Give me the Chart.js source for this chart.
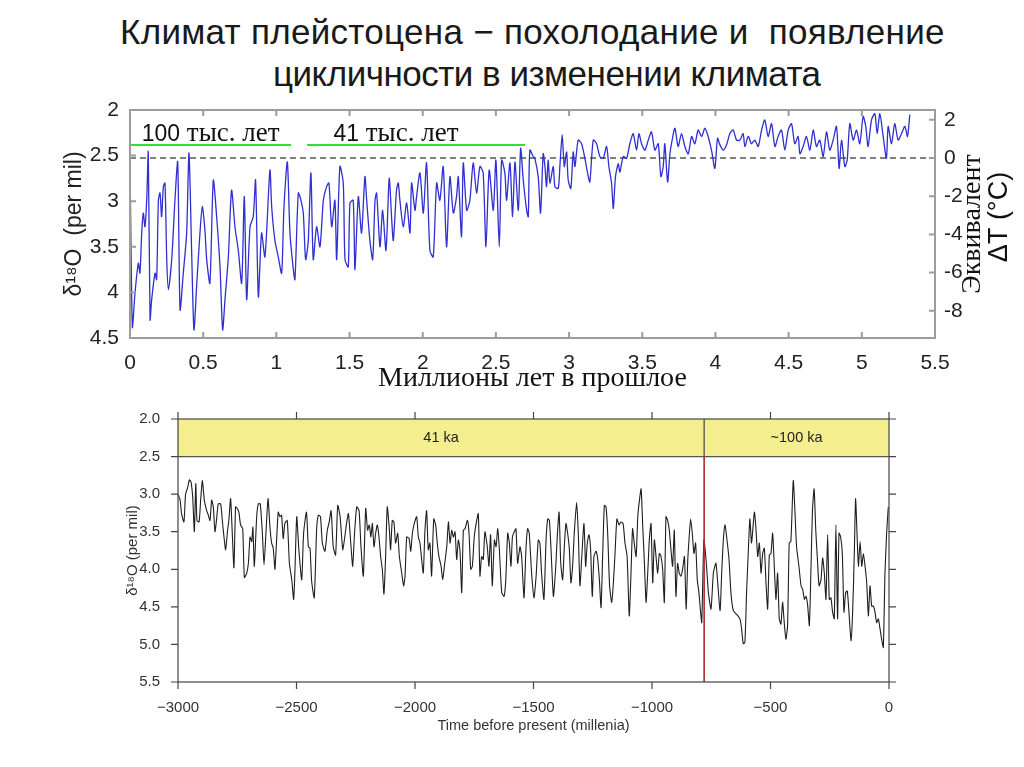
<!DOCTYPE html>
<html>
<head>
<meta charset="utf-8">
<script src="https://cdn.jsdelivr.net/npm/chart.js@4.4.1/dist/chart.umd.min.js"></script>
<style>
  html, body { margin: 0; padding: 0; background: #fff; }
  body { width: 1024px; height: 767px; position: relative; overflow: hidden; font-family: "Liberation Sans", Arial, sans-serif; }
  .title { position: absolute; font-size: 35px; line-height: 42px; color: #1a1a1a; white-space: pre; }
  #topWrap { position: absolute; left: 0; top: 90px; width: 1024px; height: 310px; }
  #bottomWrap { position: absolute; left: 0; top: 400px; width: 1024px; height: 345px; }
</style>
</head>
<body>
<div class="title" style="left:120px; top:11px; letter-spacing:0.3px;">Климат плейстоцена − похолодание и  появление</div>
<div class="title" style="left:273px; top:53px; letter-spacing:-0.5px;">цикличности в изменении климата</div>
<div id="topWrap"><canvas id="topChart"></canvas></div>
<div id="bottomWrap"><canvas id="bottomChart"></canvas></div>
<script>
// Верхний график: δ18O за последние 5.3 млн лет
const topAge = [
  0.000, 0.016, 0.034, 0.057, 0.068, 0.080, 0.091, 0.102, 0.114, 0.125, 0.137, 0.148, 0.171, 0.182, 0.194, 0.205,
  0.216, 0.228, 0.239, 0.251, 0.262, 0.285, 0.307, 0.326, 0.342, 0.364, 0.387, 0.403, 0.421, 0.437, 0.455, 0.478,
  0.494, 0.512, 0.524, 0.546, 0.569, 0.592, 0.615, 0.633, 0.649, 0.672, 0.694, 0.717, 0.740, 0.763, 0.781, 0.797,
  0.820, 0.842, 0.858, 0.877, 0.899, 0.922, 0.956, 0.968, 0.990, 1.013, 1.036, 1.052, 1.075, 1.093, 1.116, 1.127,
  1.150, 1.168, 1.184, 1.200, 1.218, 1.236, 1.252, 1.275, 1.298, 1.321, 1.343, 1.359, 1.378, 1.400,
  1.412, 1.434, 1.457, 1.469, 1.491, 1.503, 1.525, 1.537, 1.560, 1.582, 1.605, 1.617, 1.639, 1.658, 1.674, 1.685,
  1.708, 1.726, 1.749, 1.771, 1.787, 1.799, 1.821, 1.833, 1.844, 1.867, 1.890, 1.913, 1.924, 1.947, 1.958, 1.981,
  2.004, 2.026, 2.049, 2.072, 2.095, 2.117, 2.140, 2.163, 2.186, 2.209, 2.231, 2.243, 2.265, 2.277, 2.300, 2.322,
  2.345, 2.368, 2.391, 2.413, 2.432, 2.454, 2.482, 2.500, 2.523, 2.539, 2.561, 2.573, 2.596, 2.614, 2.630, 2.653,
  2.669, 2.687, 2.710, 2.721, 2.732, 2.755,
  2.766, 2.789, 2.805, 2.823, 2.835, 2.846, 2.857, 2.869, 2.892, 2.903, 2.926, 2.937, 2.953, 2.967, 2.983, 2.994,
  3.012, 3.028, 3.040, 3.062, 3.085, 3.108, 3.131, 3.142, 3.165, 3.188, 3.210, 3.233, 3.256, 3.272, 3.290, 3.302,
  3.317, 3.336, 3.347, 3.370, 3.393, 3.415, 3.438, 3.461, 3.477, 3.495, 3.518, 3.541, 3.563, 3.586, 3.609, 3.627,
  3.643, 3.654, 3.673, 3.689, 3.704, 3.723, 3.745, 3.768, 3.791, 3.814, 3.837, 3.859, 3.882, 3.905, 3.928, 3.950,
  3.973, 3.996, 4.014, 4.030, 4.053, 4.076, 4.098, 4.121, 4.144,
  4.167, 4.189, 4.201, 4.224, 4.246, 4.269, 4.292, 4.315, 4.337, 4.360, 4.383, 4.406, 4.428, 4.451, 4.474, 4.497,
  4.520, 4.542, 4.565, 4.577, 4.599, 4.622, 4.645, 4.668, 4.690, 4.713, 4.736, 4.759, 4.781, 4.804, 4.827, 4.845,
  4.861, 4.884, 4.900, 4.918, 4.941, 4.964, 4.986, 5.009, 5.027, 5.043, 5.066, 5.089, 5.105, 5.123, 5.146, 5.168,
  5.180, 5.203, 5.225, 5.248, 5.271, 5.294, 5.312, 5.328
];
const topD18O = [
  2.55, 4.38, 4.01, 3.68, 3.79, 3.35, 3.13, 3.28, 2.99, 2.46, 4.30, 4.08, 3.79, 3.86, 2.99, 2.91,
  3.17, 2.84, 2.80, 3.64, 3.97, 3.64, 2.99, 2.57, 4.19, 3.79, 3.35, 2.47, 3.54, 4.41, 3.94, 3.35,
  3.06, 3.32, 3.64, 3.90, 2.77, 3.17, 3.72, 4.41, 4.08, 3.61, 2.88, 3.28, 3.54, 3.90, 2.95, 4.08,
  3.28, 3.17, 2.77, 4.05, 3.35, 3.61, 2.66, 3.06, 3.43, 3.61, 3.79, 3.06, 2.57, 3.35, 3.75, 3.86,
  2.91, 2.99, 3.13, 3.64, 3.43, 2.69, 3.64, 3.28, 3.50, 2.99, 2.84, 2.80, 3.28, 2.99,
  3.64, 2.62, 2.80, 3.64, 3.72, 3.02, 2.99, 3.75, 2.95, 3.35, 2.73, 2.99, 3.43, 3.64, 2.99, 2.91,
  3.50, 3.10, 3.54, 2.75, 3.17, 3.43, 2.88, 2.80, 2.99, 3.28, 3.02, 3.35, 2.80, 3.10, 2.95, 2.69,
  3.13, 2.58, 3.54, 3.61, 2.80, 2.99, 2.62, 3.50, 2.73, 3.13, 2.95, 2.73, 3.39, 2.58, 3.10, 2.99,
  2.58, 2.91, 2.62, 2.69, 3.50, 2.66, 3.10, 2.55, 3.50, 2.55, 2.69, 2.99, 2.58, 3.17, 2.57, 3.10,
  2.42, 2.77, 3.10, 3.17, 2.44, 2.51,
  2.53, 2.73, 3.13, 2.48, 2.62, 2.84, 2.55, 2.80, 2.62, 2.84, 2.86, 2.62, 2.27, 2.62, 2.46, 2.77,
  2.86, 2.46, 2.62, 2.33, 2.37, 2.53, 2.73, 2.79, 2.33, 2.37, 2.51, 2.53, 2.40, 2.62, 2.80, 3.08,
  2.73, 2.59, 2.68, 2.51, 2.53, 2.37, 2.26, 2.44, 2.26, 2.37, 2.44, 2.33, 2.24, 2.44, 2.37, 2.73,
  2.62, 2.37, 2.79, 2.48, 2.33, 2.20, 2.40, 2.26, 2.40, 2.48, 2.29, 2.37, 2.22, 2.29, 2.20, 2.29,
  2.44, 2.64, 2.31, 2.38, 2.44, 2.38, 2.26, 2.22, 2.33,
  2.33, 2.26, 2.40, 2.29, 2.37, 2.33, 2.40, 2.22, 2.11, 2.29, 2.15, 2.40, 2.29, 2.22, 2.44, 2.22,
  2.15, 2.37, 2.29, 2.48, 2.40, 2.29, 2.44, 2.22, 2.40, 2.33, 2.51, 2.24, 2.44, 2.33, 2.18, 2.64,
  2.33, 2.62, 2.55, 2.15, 2.33, 2.22, 2.37, 2.07, 2.18, 2.40, 2.11, 2.04, 2.26, 2.04, 2.29, 2.53,
  2.18, 2.37, 2.15, 2.33, 2.26, 2.18, 2.29, 2.05
];
const topXTicks = [0, 0.5, 1, 1.5, 2, 2.5, 3, 3.5, 4, 4.5, 5, 5.5];
const topYTicks = [2, 2.5, 3, 3.5, 4, 4.5];
const topTempTicks = [2, 0, -2, -4, -6, -8];
const cyclePeriods = ['100 тыс. лет', '41 тыс. лет'];
const cycleSpans = [[0, 1.10], [1.21, 2.70]];
const cycleLabelAt = [0.08, 1.39];
const cycleLevel = 2.385;
// пересчёт δ18O -> эквивалент ΔT: 0 °C при 2.526, 0.2095 per mil на градус
const tempZero = 2.526;
const tempSlope = 0.2095;

// Нижний график: последние 3 млн лет
const bottomTime = [
  -3000, -2991, -2985, -2975, -2968, -2959, -2952, -2945, -2938, -2931, -2925, -2920, -2911, -2904, -2897, -2889,
  -2879, -2872, -2865, -2858, -2851, -2844, -2837, -2830, -2820, -2813, -2806, -2799, -2792, -2785, -2778, -2771,
  -2764, -2757, -2750, -2743, -2736, -2727, -2720, -2710, -2703, -2696, -2689, -2684, -2678, -2668, -2661, -2653,
  -2644, -2637, -2629, -2620, -2612, -2605, -2598, -2591, -2584, -2577, -2570, -2563, -2556, -2549, -2539, -2530,
  -2520, -2512, -2506, -2499, -2490, -2478, -2470, -2458, -2450, -2443, -2436, -2425, -2415, -2408, -2399, -2391,
  -2380, -2370, -2362, -2354, -2345, -2335, -2326, -2316, -2305, -2298, -2288, -2281, -2271, -2263, -2256, -2246,
  -2236, -2228, -2218, -2208, -2200, -2193, -2186, -2180, -2173, -2166, -2159, -2152, -2145, -2138, -2131, -2124,
  -2117, -2108, -2103, -2096, -2089, -2082, -2073, -2066, -2056, -2048, -2042, -2035, -2025, -2018, -2011, -2003,
  -1993, -1986, -1979, -1972, -1965, -1958, -1951, -1944, -1937, -1930, -1921, -1913, -1906, -1899, -1890, -1883,
  -1876, -1866, -1859, -1852, -1845, -1838, -1831, -1824, -1817, -1810, -1803, -1796, -1789, -1779, -1772, -1765,
  -1758, -1750, -1743, -1733, -1726, -1719, -1712, -1705, -1695, -1688, -1681, -1674, -1665, -1658, -1651, -1644,
  -1634, -1624, -1617, -1609, -1602, -1595, -1589, -1581, -1574, -1567, -1557, -1550, -1540, -1532, -1525, -1518,
  -1508, -1498, -1489, -1480, -1473, -1466, -1456, -1447, -1440, -1433, -1426, -1416, -1406, -1399, -1392, -1385,
  -1377, -1370, -1363, -1356, -1349, -1342, -1335, -1328, -1318, -1311, -1304, -1297, -1287, -1280, -1273, -1266,
  -1259, -1252, -1245, -1236, -1229, -1222, -1215, -1208, -1201, -1194, -1187, -1179, -1170, -1163, -1156, -1148,
  -1139, -1131, -1122, -1114, -1105, -1096, -1089, -1082, -1075, -1067, -1060, -1053, -1046, -1039, -1032, -1025,
  -1018, -1011, -1004, -997, -990, -983, -976, -969, -962, -955, -948, -941, -934, -927, -920, -913,
  -906, -899, -892, -885, -878, -871, -863, -856, -849, -842, -837, -830, -823, -816, -809, -802,
  -795, -790, -781, -772, -762, -751, -741, -730, -713, -706, -699, -692, -685, -675, -667, -657,
  -643, -629, -622, -615, -608, -601, -594, -587, -580, -568, -561, -554, -547, -540, -533, -526,
  -519, -512, -505, -498, -491, -484, -477, -470, -463, -456, -449, -442, -435, -428, -421, -414,
  -404, -397, -390, -380, -371, -364, -357, -350, -343, -336, -329, -323, -316, -309, -302, -295,
  -287, -280, -273, -266, -259, -252, -245, -238, -231, -224, -217, -211, -204, -197, -190, -183,
  -176, -169, -160, -153, -146, -141, -134, -129, -122, -115, -108, -101, -94, -87, -80, -73,
  -66, -59, -52, -45, -38, -31, -24, -17, -10, -3
];
const bottomD18O = [
  3.00, 3.08, 3.26, 3.37, 3.00, 2.91, 2.81, 2.84, 3.04, 3.50, 2.86, 3.35, 3.37, 3.06, 2.82, 3.08,
  3.22, 3.28, 3.35, 3.08, 3.17, 3.50, 3.33, 3.13, 3.13, 3.35, 3.57, 3.74, 3.52, 3.33, 3.06, 3.52,
  3.98, 3.17, 3.19, 3.24, 3.41, 3.46, 4.11, 4.05, 3.92, 3.57, 3.63, 3.44, 3.96, 3.30, 3.13, 3.13,
  3.52, 3.94, 3.52, 3.06, 3.44, 3.65, 3.72, 4.00, 3.61, 3.24, 3.30, 3.28, 3.59, 3.39, 3.35, 3.92,
  4.14, 4.40, 3.96, 3.30, 3.74, 4.14, 3.52, 3.24, 3.70, 3.72, 4.16, 4.38, 3.46, 3.28, 3.30, 3.65,
  3.76, 3.48, 3.37, 3.22, 3.70, 3.81, 3.15, 3.30, 3.74, 3.61, 3.37, 3.26, 3.65, 3.96, 3.57, 3.17,
  3.22, 3.70, 4.09, 3.19, 3.48, 3.41, 3.57, 3.39, 3.70, 3.52, 3.41, 3.57, 3.83, 4.00, 4.33, 3.83,
  3.17, 3.48, 3.74, 3.35, 3.37, 3.65, 3.52, 3.83, 4.05, 4.22, 4.09, 3.57, 3.59, 3.76, 3.52, 3.39,
  3.30, 3.57, 3.65, 3.87, 4.05, 3.48, 3.22, 3.74, 3.65, 4.09, 3.33, 3.41, 3.65, 3.83, 3.96, 4.14,
  3.96, 3.70, 3.37, 3.65, 3.48, 3.57, 3.50, 3.87, 3.61, 3.76, 4.31, 3.48, 3.46, 3.35, 3.52, 4.00,
  3.96, 3.57, 3.41, 3.26, 4.09, 3.83, 3.87, 3.50, 3.70, 3.96, 3.54, 4.22, 3.61, 3.70, 3.46, 3.74,
  4.31, 4.36, 4.14, 3.52, 3.65, 3.96, 3.57, 3.50, 3.46, 3.92, 3.70, 3.83, 4.38, 3.74, 3.46, 3.52,
  4.05, 4.38, 4.09, 3.61, 3.65, 4.05, 4.40, 3.61, 3.33, 3.35, 3.74, 4.36, 3.96, 3.52, 3.24, 3.92,
  4.14, 3.70, 3.39, 3.52, 3.72, 4.18, 3.96, 3.52, 3.11, 3.52, 4.22, 3.87, 3.39, 3.96, 3.65, 3.54,
  3.74, 4.36, 3.83, 3.76, 3.87, 4.14, 4.51, 3.79, 3.15, 3.17, 3.52, 4.22, 4.44, 4.18, 3.79, 3.33,
  3.41, 3.37, 3.39, 3.65, 3.83, 4.62, 4.09, 3.46, 3.65, 3.83, 3.30, 3.08, 2.93, 3.43, 3.92, 4.44,
  4.05, 3.59, 3.39, 4.18, 3.61, 3.83, 4.05, 3.79, 3.83, 4.00, 4.44, 3.30, 3.35, 3.48, 3.74, 3.96,
  3.48, 4.36, 3.92, 4.05, 4.09, 4.00, 3.83, 4.53, 3.87, 3.52, 3.33, 3.52, 3.79, 3.65, 4.14, 4.31,
  4.57, 4.71, 3.61, 3.87, 4.31, 4.53, 4.05, 3.92, 4.55, 4.05, 3.61, 3.41, 3.57, 3.87, 4.31, 4.55,
  4.60, 4.66, 4.79, 4.99, 4.97, 4.31, 3.79, 3.33, 3.65, 3.24, 3.48, 3.83, 3.65, 4.05, 3.79, 3.72,
  4.18, 4.53, 3.81, 3.79, 3.52, 3.96, 4.40, 4.05, 4.66, 4.73, 4.44, 4.71, 4.93, 4.75, 3.65, 3.63,
  2.82, 3.22, 3.70, 3.96, 4.22, 4.27, 4.40, 4.36, 4.49, 4.75, 3.96, 3.22, 2.93, 3.48, 3.87, 4.22,
  4.14, 3.85, 4.05, 4.40, 3.54, 4.40, 4.38, 4.57, 4.66, 3.41, 4.66, 3.52, 3.57, 3.79, 4.57, 4.31,
  4.29, 4.57, 4.95, 4.53, 3.74, 3.06, 3.61, 3.96, 3.63, 3.96, 3.79, 3.96, 4.18, 4.62, 4.22, 4.49,
  4.49, 4.57, 4.71, 4.66, 4.79, 4.93, 5.04, 4.05, 3.52, 3.17
];
const bottomXTicks = [-3000, -2500, -2000, -1500, -1000, -500, 0];
const bottomYTicks = [2.0, 2.5, 3.0, 3.5, 4.0, 4.5, 5.0, 5.5];
const bandEdges = [-3000, -780, 0];
const bandLabels = ['41 ka', '~100 ka'];
const bandRange = [2.0, 2.5];

Chart.defaults.font.family = '"Liberation Sans", Arial, sans-serif';
Chart.defaults.animation = false;

const pairs = (xs, ys) => xs.map((x, i) => ({ x: x, y: ys[i] }));
const fixTicks = (values) => (scale) => { scale.ticks = values.map(v => ({ value: v })); };

// рамка графика с засечками (внутрь или наружу)
const frameTicks = {
  id: 'frameTicks',
  afterDatasetsDraw(chart, args, opts) {
    const { ctx, chartArea: a, scales } = chart;
    const len = opts.inward ? -opts.length : opts.length;
    const right = scales[opts.rightScale] || scales.y;
    ctx.save();
    ctx.strokeStyle = opts.color;
    ctx.lineWidth = opts.lineWidth;
    ctx.beginPath();
    scales.x.ticks.forEach(t => {
      const px = scales.x.getPixelForValue(t.value);
      ctx.moveTo(px, a.bottom); ctx.lineTo(px, a.bottom + len);
      ctx.moveTo(px, a.top); ctx.lineTo(px, a.top - len);
    });
    scales.y.ticks.forEach(t => {
      const py = scales.y.getPixelForValue(t.value);
      ctx.moveTo(a.left, py); ctx.lineTo(a.left - len, py);
    });
    right.ticks.forEach(t => {
      const py = right.getPixelForValue(t.value);
      ctx.moveTo(a.right, py); ctx.lineTo(a.right + len, py);
    });
    ctx.stroke();
    ctx.strokeRect(a.left, a.top, a.right - a.left, a.bottom - a.top);
    ctx.restore();
  }
};

// подписи периодов и правая ось "Эквивалент ΔT"
const topLabels = {
  id: 'topLabels',
  afterDraw(chart) {
    const { ctx, chartArea: a, scales: { x, y } } = chart;
    ctx.save();
    ctx.fillStyle = '#111';
    ctx.textBaseline = 'alphabetic';
    cyclePeriods.forEach((label, i) => {
      const parts = label.split(' ');
      const num = parts.shift();
      let px = x.getPixelForValue(cycleLabelAt[i]);
      const py = y.getPixelForValue(2.345);
      ctx.font = '23px "Liberation Sans", Arial, sans-serif';
      ctx.fillText(num, px, py);
      px += ctx.measureText(num).width;
      ctx.font = '27px "Liberation Serif", "Times New Roman", serif';
      ctx.fillText(' ' + parts.join(' '), px, py);
    });
    const cy = (a.top + a.bottom) / 2;
    ctx.textAlign = 'center';
    ctx.textBaseline = 'middle';
    ctx.translate(a.right + 38, cy);
    ctx.rotate(-Math.PI / 2);
    ctx.font = '28px "Liberation Serif", "Times New Roman", serif';
    ctx.fillText('Эквивалент', 0, 0);
    ctx.font = '27px "Liberation Sans", Arial, sans-serif';
    ctx.fillText('ΔT (°C)', 7, 27);
    ctx.restore();
  }
};

const bandText = {
  id: 'bandText',
  afterDatasetsDraw(chart) {
    const { ctx, scales: { x, y } } = chart;
    ctx.save();
    ctx.fillStyle = '#222';
    ctx.font = '14.5px "Liberation Sans", Arial, sans-serif';
    ctx.textAlign = 'center';
    ctx.textBaseline = 'middle';
    const ty = y.getPixelForValue((bandRange[0] + bandRange[1]) / 2);
    bandLabels.forEach((label, i) => {
      ctx.fillText(label, x.getPixelForValue((bandEdges[i] + bandEdges[i + 1]) / 2), ty);
    });
    ctx.restore();
  }
};

new Chart(document.getElementById('topChart'), {
  type: 'line',
  data: {
    datasets: [
      {
        data: pairs(topAge, topD18O),
        borderColor: '#2f2fd2',
        borderWidth: 1.3,
        tension: 0.25,
        pointRadius: 0
      },
      ...cycleSpans.map(span => ({
        data: [{ x: span[0], y: cycleLevel }, { x: span[1], y: cycleLevel }],
        borderColor: '#33dd33',
        borderWidth: 2,
        pointRadius: 0
      })),
      {
        data: [{ x: 0, y: 0 }, { x: 5.5, y: 0 }],
        yAxisID: 'y2',
        borderColor: '#555',
        borderWidth: 1.6,
        borderDash: [6, 4],
        pointRadius: 0
      }
    ]
  },
  options: {
    responsive: true,
    maintainAspectRatio: false,
    layout: { padding: { top: 20, left: 0, right: 0, bottom: 0 } },
    plugins: {
      legend: { display: false },
      tooltip: { enabled: false },
      frameTicks: { color: '#9c9c9c', lineWidth: 2, length: 6, inward: true, rightScale: 'y2' }
    },
    scales: {
      x: {
        type: 'linear',
        min: 0,
        max: 5.5,
        afterBuildTicks: fixTicks(topXTicks),
        afterFit: s => { s.height = 62; },
        grid: { display: false },
        border: { display: false },
        ticks: { color: '#222', font: { size: 21 }, padding: 5, maxRotation: 0, autoSkip: false, callback: v => String(v) },
        title: {
          display: true,
          text: 'Миллионы лет в прошлое',
          color: '#111',
          font: { family: '"Liberation Serif", "Times New Roman", serif', size: 28 },
          padding: { top: 0, bottom: 5 }
        }
      },
      y: {
        position: 'left',
        reverse: true,
        min: 2,
        max: 4.5,
        afterBuildTicks: fixTicks(topYTicks),
        afterFit: s => { s.width = 130; },
        grid: { display: false },
        border: { display: false },
        ticks: { color: '#222', font: { size: 21 }, padding: 3, callback: v => String(v) },
        title: {
          display: true,
          text: 'δ¹⁸O  (per mil)',
          color: '#222',
          font: { size: 23 },
          padding: { top: 61, bottom: 0 }
        }
      },
      y2: {
        position: 'right',
        min: (tempZero - 4.5) / tempSlope,
        max: (tempZero - 2) / tempSlope,
        afterBuildTicks: fixTicks(topTempTicks),
        afterFit: s => { s.width = 89; },
        grid: { display: false },
        border: { display: false },
        ticks: { color: '#222', font: { size: 21 }, padding: 1, callback: v => String(v) }
      }
    }
  },
  plugins: [frameTicks, topLabels]
});

new Chart(document.getElementById('bottomChart'), {
  type: 'line',
  data: {
    datasets: [
      {
        data: [{ x: bandEdges[1], y: bandRange[1] }, { x: bandEdges[1], y: 5.5 }],
        borderColor: '#b3282d',
        borderWidth: 1.6,
        pointRadius: 0
      },
      {
        data: pairs(bottomTime, bottomD18O),
        borderColor: '#1e1e1e',
        borderWidth: 1.1,
        tension: 0.2,
        pointRadius: 0
      },
      {
        data: [{ x: bandEdges[1], y: bandRange[0] }, { x: bandEdges[1], y: bandRange[1] }],
        borderColor: '#444',
        borderWidth: 1.2,
        pointRadius: 0
      },
      {
        data: [{ x: bandEdges[0], y: bandRange[1] }, { x: bandEdges[2], y: bandRange[1] }],
        borderColor: '#555',
        borderWidth: 1.2,
        backgroundColor: '#f5ee8f',
        fill: { value: bandRange[0] },
        pointRadius: 0
      }
    ]
  },
  options: {
    responsive: true,
    maintainAspectRatio: false,
    layout: { padding: { top: 16, left: 0, right: 135, bottom: 0 } },
    plugins: {
      legend: { display: false },
      tooltip: { enabled: false },
      frameTicks: { color: '#444', lineWidth: 1.2, length: 7, inward: false }
    },
    scales: {
      x: {
        type: 'linear',
        min: -3000,
        max: 0,
        afterBuildTicks: fixTicks(bottomXTicks),
        afterFit: s => { s.height = 63; },
        grid: { display: false },
        border: { display: false },
        ticks: {
          color: '#333', font: { size: 15 }, padding: 9, maxRotation: 0, autoSkip: false,
          callback: v => v < 0 ? '\u2212' + Math.abs(v) : String(v)
        },
        title: {
          display: true,
          text: 'Time before present (millenia)',
          color: '#333',
          font: { size: 14.5 },
          padding: { top: 0, bottom: 10 }
        }
      },
      y: {
        reverse: true,
        min: 2,
        max: 5.5,
        afterBuildTicks: fixTicks(bottomYTicks),
        afterFit: s => { s.width = 178; },
        grid: { display: false },
        border: { display: false },
        ticks: { color: '#333', font: { size: 15 }, padding: 10, callback: v => v.toFixed(1) },
        title: {
          display: true,
          text: 'δ¹⁸O (per mil)',
          color: '#333',
          font: { size: 15 },
          padding: { top: 124, bottom: 0 }
        }
      }
    }
  },
  plugins: [frameTicks, bandText]
});
</script>
</body>
</html>
